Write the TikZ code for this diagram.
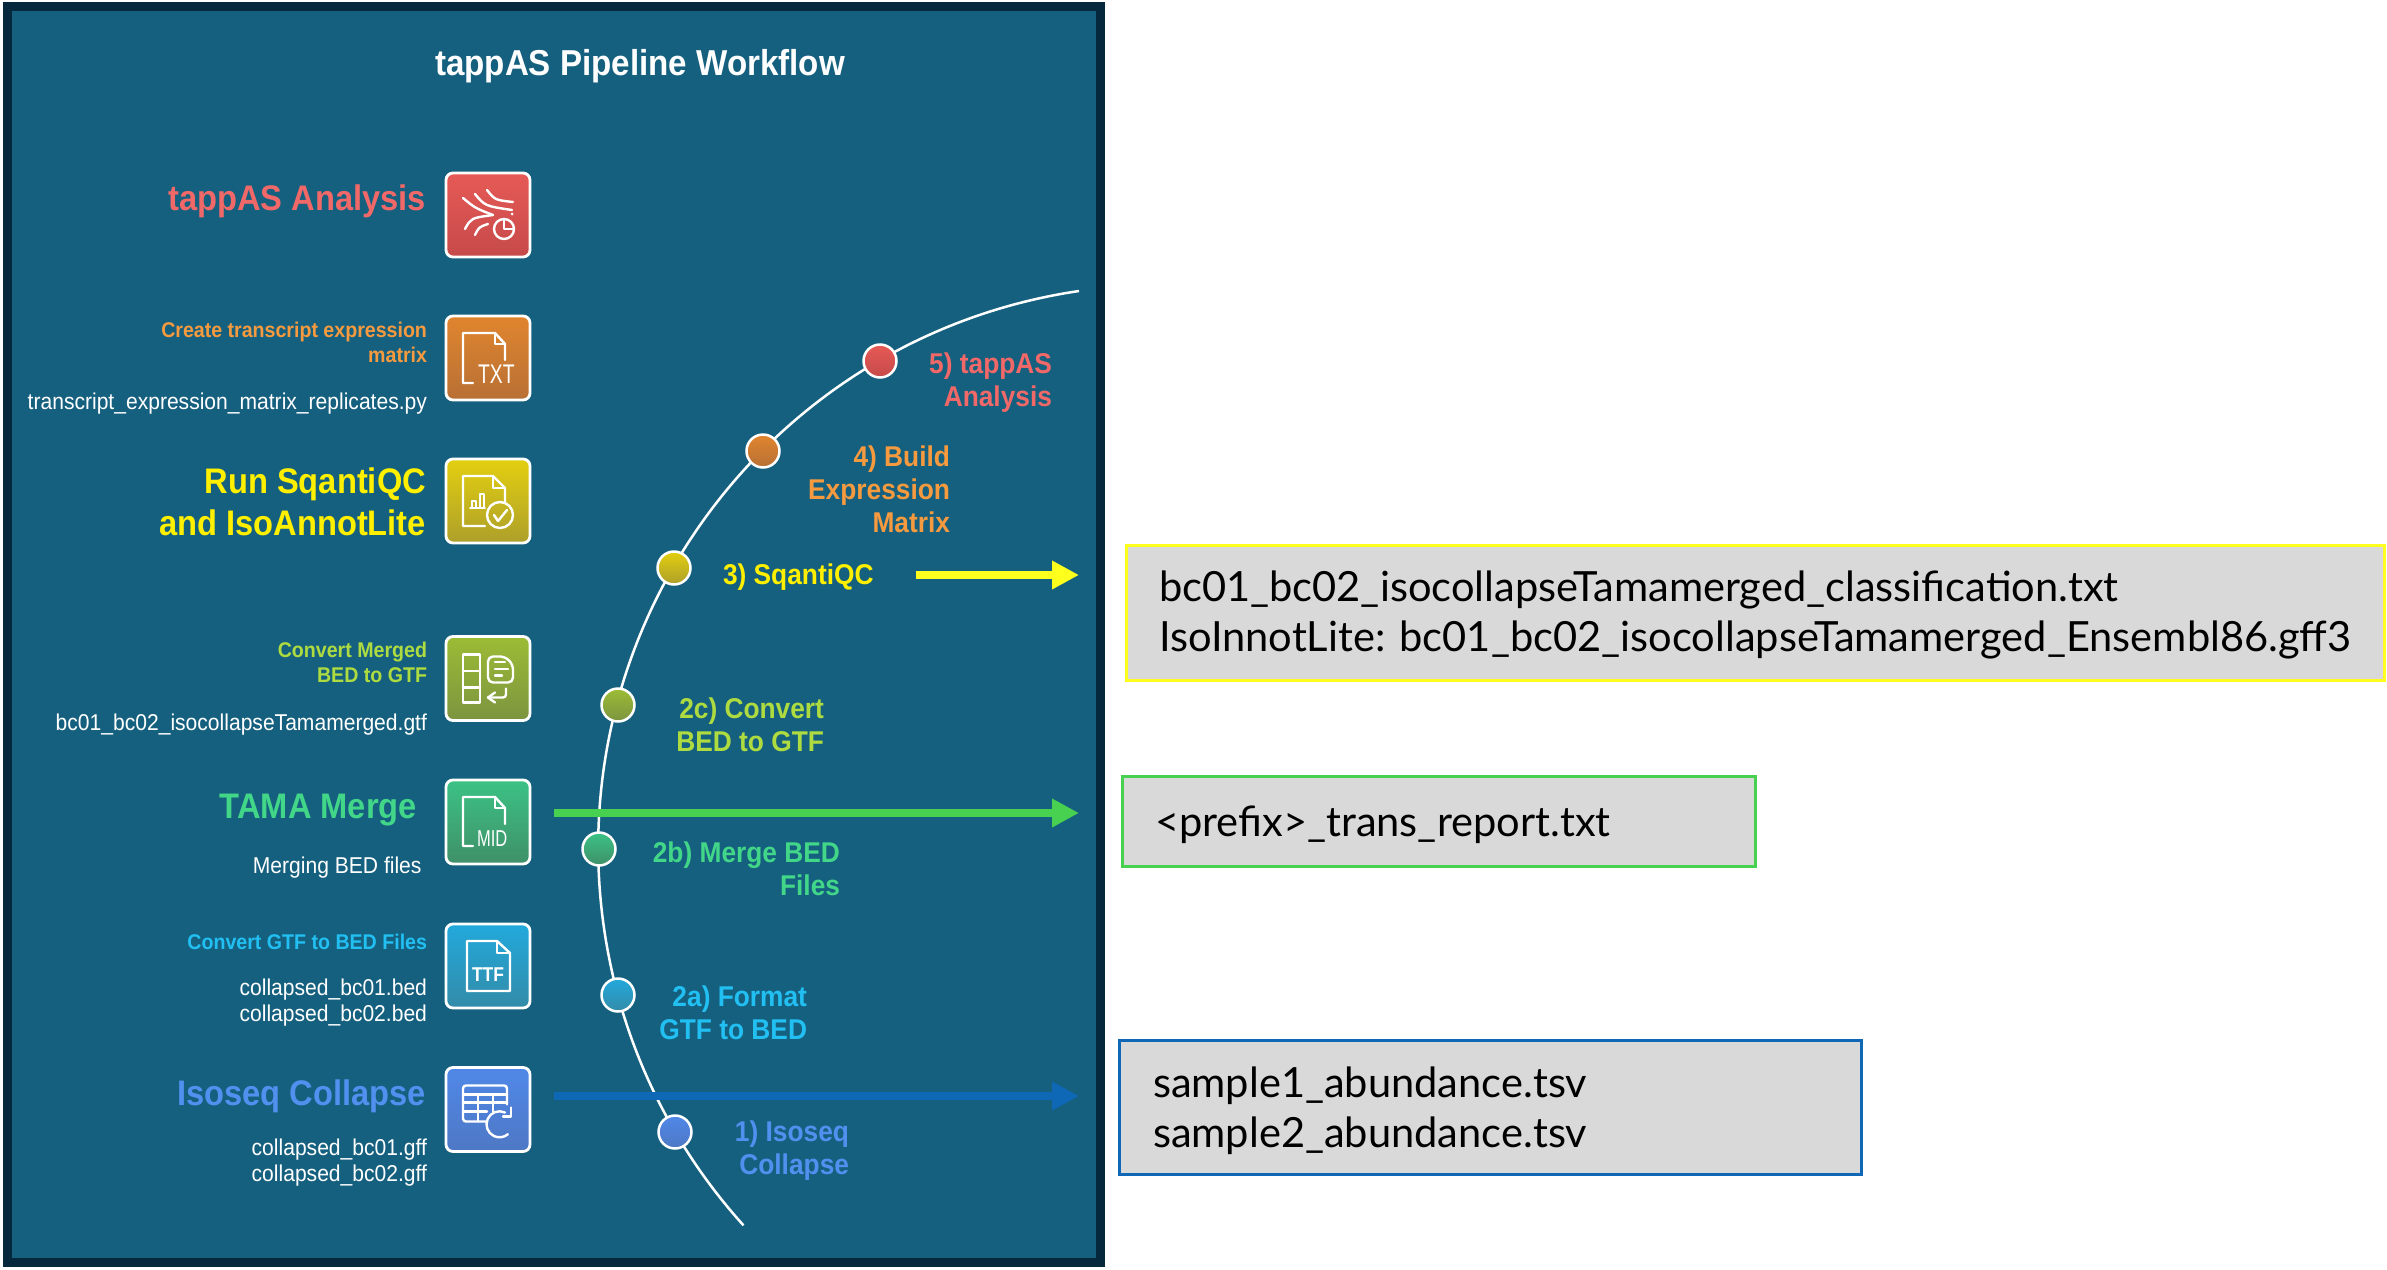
\documentclass[tikz,border=0pt]{standalone}
\usepackage{fontspec}
\usetikzlibrary{arrows.meta}
\setmainfont[FakeStretch=0.92]{Liberation Sans}
\newfontfamily\boxfont{Lato}
\newcommand{\fsz}[2]{\fontsize{#1}{#2}\selectfont}
\definecolor{panelfill}{HTML}{16607F}
\definecolor{panelline}{HTML}{06283D}
\definecolor{cred}{HTML}{F06868}
\definecolor{corange}{HTML}{F59A3E}
\definecolor{cyellow}{HTML}{FFF000}
\definecolor{clime}{HTML}{AEDC40}
\definecolor{cgreen}{HTML}{42D688}
\definecolor{ccyan}{HTML}{22C0F2}
\definecolor{cblue}{HTML}{5290F0}
\definecolor{boxfill}{HTML}{D9D9D9}
\definecolor{ayellow}{HTML}{FFFF1E}
\definecolor{agreen}{HTML}{48D050}
\definecolor{ablue}{HTML}{0F68B5}
\definecolor{E1}{HTML}{E65A56}\definecolor{E2}{HTML}{C64A4A}
\definecolor{O1}{HTML}{E0852E}\definecolor{O2}{HTML}{B87035}
\definecolor{Y1}{HTML}{E3CF10}\definecolor{Y2}{HTML}{AD9F2A}
\definecolor{L1}{HTML}{9CBC35}\definecolor{L2}{HTML}{7C9440}
\definecolor{G1}{HTML}{3CC285}\definecolor{G2}{HTML}{3F9068}
\definecolor{C1}{HTML}{22A9DC}\definecolor{C2}{HTML}{338BA8}
\definecolor{B1}{HTML}{5088E8}\definecolor{B2}{HTML}{4E78C4}
\tikzset{
  x=1pt,y=-1pt,
  every node/.style={inner sep=0pt,outer sep=0pt},
  rtext/.style={anchor=base east,align=right},
  big/.style={rtext,font=\bfseries\fsz{35.5}{42}},
  mid/.style={rtext,font=\bfseries\fsz{28.6}{33}},
  small/.style={rtext,font=\bfseries\fsz{21.3}{25}},
  whitetext/.style={rtext,text=white,font=\fsz{22.9}{25.5}},
  iconbox/.style={draw=white,line width=2.8pt,rounded corners=7pt,minimum width=84pt,minimum height=84pt},
  stepdot/.style={circle,draw=white,line width=2.5pt,minimum size=33pt},
  glyph/.style={draw=white,line width=2.4pt,line cap=round,line join=round},
  glyphtext/.style={text=white,anchor=base west},
  outbox/.style={fill=boxfill,line width=3pt,anchor=north west},
  outtext/.style={anchor=base west,align=left,font=\boxfont\fsz{41.6}{50}},
  flow/.style={line width=7.5pt,-{Triangle[length=27pt,width=27pt]}},
}
\begin{document}
\begin{tikzpicture}
\useasboundingbox (0,0) rectangle (2387,1269);
\fill[white] (0,0) rectangle (2387,1269);
% panel
\draw[panelline,fill=panelfill,line width=9pt] (7,6) rectangle (1100,1262);
\node[text=white,font=\bfseries\fsz{36}{36},anchor=base] (title) at (640,75) {tappAS Pipeline Workflow};
% timeline
\coordinate (arcTop) at (1079,291);
\draw[white,line width=2.5pt] (arcTop) arc[start angle=98.4,end angle=222.1,radius=563pt];
% flows
\coordinate (f3a) at (916,575); \coordinate (f3b) at (1079,575);
\coordinate (f2a) at (554,813); \coordinate (f2b) at (1079,813);
\coordinate (f1a) at (554,1096); \coordinate (f1b) at (1079,1096);
\draw[flow,ayellow] (f3a) -- (f3b);
\draw[flow,agreen] (f2a) -- (f2b);
\draw[flow,ablue] (f1a) -- (f1b);
% dots
\node[stepdot,top color=E1,bottom color=E2] (d5) at (880,361) {};
\node[stepdot,top color=O1,bottom color=O2] (d4) at (763,451) {};
\node[stepdot,top color=Y1,bottom color=Y2] (d3) at (674,568) {};
\node[stepdot,top color=L1,bottom color=L2] (d2c) at (618,705) {};
\node[stepdot,top color=G1,bottom color=G2] (d2b) at (599,849) {};
\node[stepdot,top color=C1,bottom color=C2] (d2a) at (618,995) {};
\node[stepdot,top color=B1,bottom color=B2] (d1) at (675,1132) {};
% right labels
\node[mid,text=cred] (l5) at (1052,406) {5) tappAS\\Analysis};
\node[mid,text=corange] (l4) at (950,532) {4) Build\\Expression\\Matrix};
\node[mid,text=cyellow,anchor=base west] (l3) at (723,584) {3) SqantiQC};
\node[mid,text=clime] (l2c) at (824,751) {2c) Convert\\BED to GTF};
\node[mid,text=cgreen] (l2b) at (840,895) {2b) Merge BED\\Files};
\node[mid,text=ccyan] (l2a) at (807,1039) {2a) Format\\GTF to BED};
\node[mid,text=cblue] (l1) at (849,1174) {1) Isoseq\\Collapse};
% left labels
\node[big,text=cred] (t5) at (426,210) {tappAS Analysis};
\node[small,text=corange] (t4) at (427,362) {Create transcript expression\\matrix};
\node[whitetext] (w4) at (427,409) {transcript\_expression\_matrix\_replicates.py};
\node[big,text=cyellow] (t3) at (426,535) {Run SqantiQC\\and IsoAnnotLite};
\node[small,text=clime] (t2c) at (427,682) {Convert Merged \\BED to GTF};
\node[whitetext] (w2c) at (427,730) {bc01\_bc02\_isocollapseTamamerged.gtf};
\node[big,text=cgreen] (t2b) at (417,818) {TAMA Merge};
\node[whitetext] (w2b) at (421.5,873.5) {Merging BED files};
\node[small,text=ccyan] (t2a) at (427,949) {Convert GTF to BED Files};
\node[whitetext] (w2a) at (427,1021) {collapsed\_bc01.bed\\collapsed\_bc02.bed};
\node[big,text=cblue] (t1) at (426,1105) {Isoseq Collapse};
\node[whitetext] (w1) at (427,1181) {collapsed\_bc01.gff\\collapsed\_bc02.gff};
% icons
\node[iconbox,top color=E1,bottom color=E2,anchor=north west] (i5) at (446,173) {};
\begin{scope}[shift={(445,172)}]
 \draw[glyph] (18,26) .. controls (30,36) .. (48,43);
 \draw[glyph] (30,22) .. controls (40,34) .. (67,38);
 \draw[glyph] (42,18) .. controls (50,28) .. (68,30);
 \draw[glyph] (20,57) .. controls (26,46) .. (48,43);
 \draw[glyph] (30,63) .. controls (34,55) .. (43,52);
 \draw[glyph] (59,57) circle[radius=10pt];
 \draw[glyph] (59,47) -- (59,57) -- (69,57);
 \fill[white] (67,42) circle[radius=1.5pt];
\end{scope}
\node[iconbox,top color=O1,bottom color=O2,anchor=north west] (i4) at (446,316) {};
\begin{scope}[shift={(445,315)}]
 \draw[glyph] (28,68) -- (18,68) -- (18,18) -- (50,18) -- (60,29) -- (60,45);
 \draw[glyph] (50,18) -- (50,29) -- (60,29);
 \node[glyphtext,xscale=.78,font=\fsz{27}{27}] (i4t) at (33,68) {TXT};
\end{scope}
\node[iconbox,top color=Y1,bottom color=Y2,anchor=north west] (i3) at (446,459) {};
\begin{scope}[shift={(445,458)}]
 \draw[glyph] (40,68) -- (18,68) -- (18,18) -- (48,18) -- (60,30) -- (60,45);
 \draw[glyph] (48,18) -- (48,30) -- (60,30);
 \draw[glyph,line width=1.8pt] (25,50) -- (40,50);
 \draw[glyph,line width=1.8pt] (27,50) -- (27,43) -- (31,43) -- (31,50);
 \draw[glyph,line width=1.8pt] (35,50) -- (35,36) -- (39,36) -- (39,50);
 \draw[glyph] (55,57) circle[radius=13pt];
 \draw[glyph] (49,57) -- (53,63) -- (62,52);
\end{scope}
\node[iconbox,top color=L1,bottom color=L2,anchor=north west] (i2c) at (446,636.5) {};
\begin{scope}[shift={(445,635.5)}]
 \draw[glyph] (18,19) rectangle (35,67);
 \draw[glyph] (18,35.5) -- (35,35.5);
 \draw[glyph] (18,52) -- (35,52);
 \draw[glyph,rounded corners=5pt] (43,21) -- (60,21) -- (68,29) -- (68,47) -- (43,47) -- cycle;
 \draw[glyph] (50,26.5) -- (60,26.5);
 \draw[glyph] (50,33.5) -- (63,33.5);
 \draw[glyph] (50,40) -- (57,40);
 \draw[glyph,rounded corners=3pt] (61,53) -- (61,62) -- (43,62);
 \draw[glyph] (50,57) -- (43,62) -- (50,67);
\end{scope}
\node[iconbox,top color=G1,bottom color=G2,anchor=north west] (i2b) at (446,780) {};
\begin{scope}[shift={(445,779)}]
 \draw[glyph] (28,67) -- (18,67) -- (18,18) -- (50,18) -- (60,29) -- (60,45);
 \draw[glyph] (50,18) -- (50,29) -- (60,29);
 \node[glyphtext,xscale=.78,font=\fsz{23}{23}] (i2bt) at (32,67) {MID};
\end{scope}
\node[iconbox,top color=C1,bottom color=C2,anchor=north west] (i2a) at (446,924) {};
\begin{scope}[shift={(445,923)}]
 \draw[glyph] (22,18) -- (52,18) -- (65,30) -- (65,68) -- (22,68) -- cycle;
 \draw[glyph] (52,18) -- (52,30) -- (65,30);
 \node[glyphtext,xscale=.95,font=\bfseries\fsz{20}{20}] (i2at) at (27,58) {TTF};
\end{scope}
\node[iconbox,top color=B1,bottom color=B2,anchor=north west] (i1) at (446,1067.5) {};
\begin{scope}[shift={(445,1066.5)}]
 \draw[glyph,rounded corners=3pt] (42,55) -- (18,55) -- (18,19) -- (62,19) -- (62,38);
 \draw[glyph] (18,28) -- (62,28);
 \draw[glyph] (18,36) -- (62,36);
 \draw[glyph] (18,45) -- (42,45);
 \draw[glyph] (33,28) -- (33,55);
 \draw[glyph] (48,28) -- (48,45);
 \draw[glyph] (60,46) arc[start angle=65,end angle=310,radius=13pt];
 \draw[glyph] (66,41) -- (66,50) -- (58,50);
\end{scope}
% output boxes
\node[outbox,draw=ayellow,minimum width=1258pt,minimum height=135pt] (oy) at (1126,545) {};
\node[outtext] (oyt) at (1159,651) {bc01\_bc02\_isocollapseTamamerged\_classification.txt\\IsoInnotLite: bc01\_bc02\_isocollapseTamamerged\_Ensembl86.gff3};
\node[outbox,draw=agreen,minimum width=633pt,minimum height=90pt] (og) at (1122,776) {};
\node[outtext] (ogt) at (1155,836) {<prefix>\_trans\_report.txt};
\node[outbox,draw=ablue,minimum width=742pt,minimum height=134pt] (ob) at (1119,1040) {};
\node[outtext] (obt) at (1153,1147) {sample1\_abundance.tsv\\sample2\_abundance.tsv};
\end{tikzpicture}
\end{document}
